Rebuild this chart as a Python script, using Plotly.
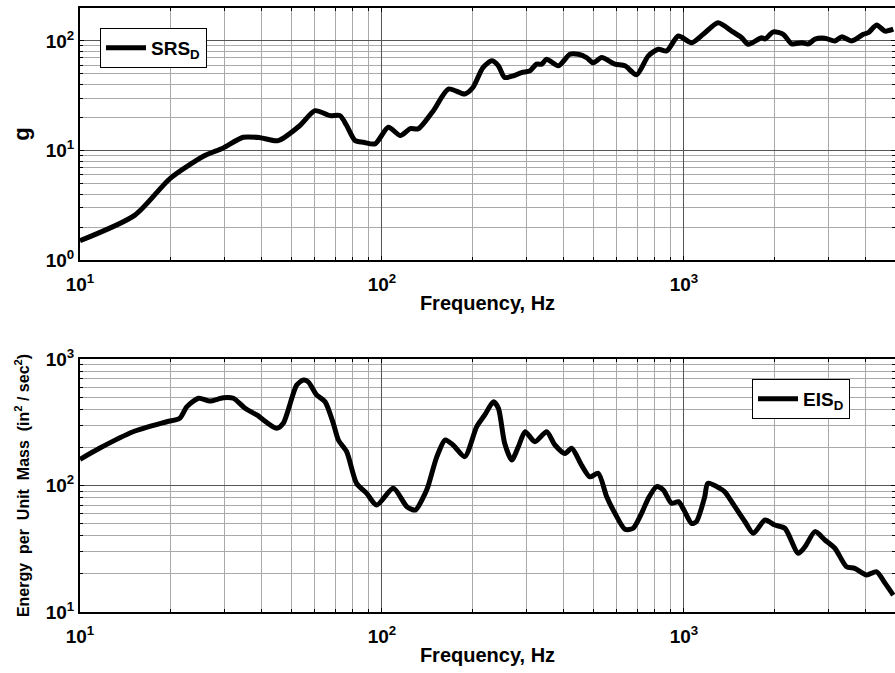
import plotly.graph_objects as go

# ---- data ----
srs_freq = [10, 15.2, 19.9, 25.9, 29.7, 34.7, 39.5, 45.3, 53.5, 60, 67.3, 72.6, 76.4, 81.5, 86.8, 94.9,
            105, 115, 124, 132, 148, 166, 188, 200, 216, 231, 243, 255, 272, 290, 309, 325, 338, 351,
            384, 419, 447, 476, 501, 534, 591, 638, 697, 762, 822, 877, 958, 1060, 1158, 1298, 1439,
            1553, 1634, 1808, 1855, 1977, 2133, 2275, 2455, 2583, 2717, 2930, 3162, 3327, 3594, 3928,
            4081, 4348, 4634, 4935]
srs_g = [1.50, 2.57, 5.57, 9.0, 10.5, 13.2, 13.1, 12.3, 16.9, 23.1, 20.8, 20.8, 16.9, 12.3, 11.9, 11.5,
         16.3, 13.7, 15.8, 15.8, 23.1, 36.4, 32.8, 37.6, 57.2, 65.8, 59.3, 46.4, 48, 51.5, 53.3, 61.4, 61.4, 68.2,
         59.3, 75.7, 75.7, 70.5, 63.1, 70.5, 61.4, 59.3, 49.1, 73.1, 84, 81.1, 111, 96.5, 115, 147, 123,
         107, 93.3, 107, 104, 121, 115, 94, 96.5, 94, 104, 106, 100, 109, 100, 115,
         119, 140, 123, 128]

eis_freq = [10, 11.6, 15.0, 19.4, 21.4, 22.6, 24.7, 26.9, 29.8, 32.2, 35.2, 38.5, 44.8, 47.1, 52.2, 54.9,
            57, 60.8, 64.8, 69, 71.7, 76.4, 82.4, 89, 96, 109, 121, 129, 139, 142, 152, 162, 172, 188,
            206, 219, 234, 243, 255, 269, 283, 298, 321, 351, 374, 404, 425, 458, 488, 520, 555, 591,
            638, 679, 724, 762, 812, 855, 910, 959, 1000, 1060, 1099, 1172, 1199, 1315, 1367, 1475,
            1593, 1698, 1855, 2000, 2159, 2391, 2517, 2717, 2930, 3162, 3454, 3679, 4024, 4348, 4634, 4935]
eis_e = [161, 197, 266, 319, 340, 420, 489, 465, 494, 489, 408, 361, 283, 310, 622, 682,
         660, 519, 460, 310, 229, 185, 104, 86.7, 70, 95, 68, 64, 86.7, 98, 169, 229, 209, 169,
         292, 361, 460, 408, 215, 159, 203, 266, 222, 266, 209, 179, 197, 145, 117, 125, 81.5, 60.3,
         45.1, 45.9, 60.3, 79, 98, 92, 72.3, 74.5, 64, 50.2, 51.7, 81.5, 104, 95, 89, 68,
         51.7, 41.9, 53.3, 48.7, 45.9, 29.1, 32.8, 43.2, 37.1, 31.9, 22.8, 22.1, 19.6, 20.8, 16.9, 13.6]

x_major = [10, 100, 1000]
x_major_text = ["10<sup>1</sup>", "10<sup>2</sup>", "10<sup>3</sup>"]
y1_major = [1, 10, 100]
y1_major_text = ["10<sup>0</sup>", "10<sup>1</sup>", "10<sup>2</sup>"]
y2_major = [10, 100, 1000]
y2_major_text = ["10<sup>1</sup>", "10<sup>2</sup>", "10<sup>3</sup>"]

def minors(lo, hi):
    out = []
    d = lo
    while d < hi:
        for k in range(2, 10):
            if k * d <= hi:
                out.append(k * d)
        d *= 10
    return out

FONT = "Liberation Sans, Arial, sans-serif"
NB = "\u00a0"

fig = go.Figure()
fig.add_trace(go.Scatter(x=srs_freq, y=srs_g, mode="lines", name="SRS<sub>D</sub>",
                         line=dict(color="black", width=5, shape="spline", smoothing=0.7),
                         xaxis="x", yaxis="y", legend="legend"))
fig.add_trace(go.Scatter(x=eis_freq, y=eis_e, mode="lines", name="EIS<sub>D</sub>",
                         line=dict(color="black", width=5, shape="spline", smoothing=0.7),
                         xaxis="x2", yaxis="y2", legend="legend2"))

tickfont = dict(family=FONT, size=19, color="black", weight="bold")
titlefont = dict(family=FONT, size=20, color="black", weight="bold")

def xaxis_cfg(anchor):
    return dict(type="log", range=[1, 3.699], domain=[80 / 895, 1.0], anchor=anchor,
                automargin=False,
                tickvals=x_major, ticktext=x_major_text, tickfont=tickfont,
                ticks="inside", ticklen=4, tickcolor="black", ticklabelstandoff=6,
                showline=True, linecolor="black", linewidth=2, mirror="ticks",
                showgrid=True, gridcolor="#555", gridwidth=1,
                minor=dict(tickvals=minors(10, 5000), ticks="inside", ticklen=3, tickcolor="black",
                           showgrid=True, gridcolor="#aaa", gridwidth=1),
                title=dict(text="Frequency, Hz", font=titlefont, standoff=2),
                zeroline=False)

def yaxis_cfg(anchor, rng, vals, text, dom, title, tfont, standoff):
    return dict(type="log", range=rng, domain=dom, anchor=anchor,
                automargin=False,
                tickvals=vals, ticktext=text, tickfont=tickfont,
                ticks="inside", ticklen=4, tickcolor="black",
                showline=True, linecolor="black", linewidth=2, mirror="ticks",
                showgrid=True, gridcolor="#555", gridwidth=1,
                minor=dict(tickvals=minors(10 ** int(rng[0]), 10 ** rng[1]),
                           ticks="inside", ticklen=3, tickcolor="black",
                           showgrid=True, gridcolor="#aaa", gridwidth=1),
                title=dict(text=title, font=tfont, standoff=standoff),
                zeroline=False)

SP = NB * 2
ytitle2 = "Energy" + SP + "per" + SP + "Unit" + SP + "Mass" + SP + "(in<sup>2</sup> / sec<sup>2</sup>)"

fig.update_layout(
    width=895, height=673,
    margin=dict(l=0, r=0, t=0, b=0),
    paper_bgcolor="white", plot_bgcolor="white",
    xaxis=xaxis_cfg("y"),
    xaxis2=xaxis_cfg("y2"),
    yaxis=yaxis_cfg("x", [0, 2.301], y1_major, y1_major_text, [1 - 260 / 673, 1 - 8 / 673], "g",
                    dict(family=FONT, size=22, color="black", weight="bold"), 10),
    yaxis2=yaxis_cfg("x2", [1, 3], y2_major, y2_major_text, [1 - 612 / 673, 1 - 359 / 673],
                     ytitle2, dict(family=FONT, size=16, color="black", weight="bold"), 12),
    legend=dict(x=100 / 895, y=1 - 28 / 673, xanchor="left", yanchor="top",
                bgcolor="white", bordercolor="black", borderwidth=1, itemwidth=40,
                font=dict(family=FONT, size=19, color="black", weight="bold")),
    legend2=dict(x=752 / 895, y=1 - 379 / 673, xanchor="left", yanchor="top",
                 bgcolor="white", bordercolor="black", borderwidth=1, itemwidth=40,
                 font=dict(family=FONT, size=19, color="black", weight="bold")),
    showlegend=True,
)

fig.write_html("out.html")
